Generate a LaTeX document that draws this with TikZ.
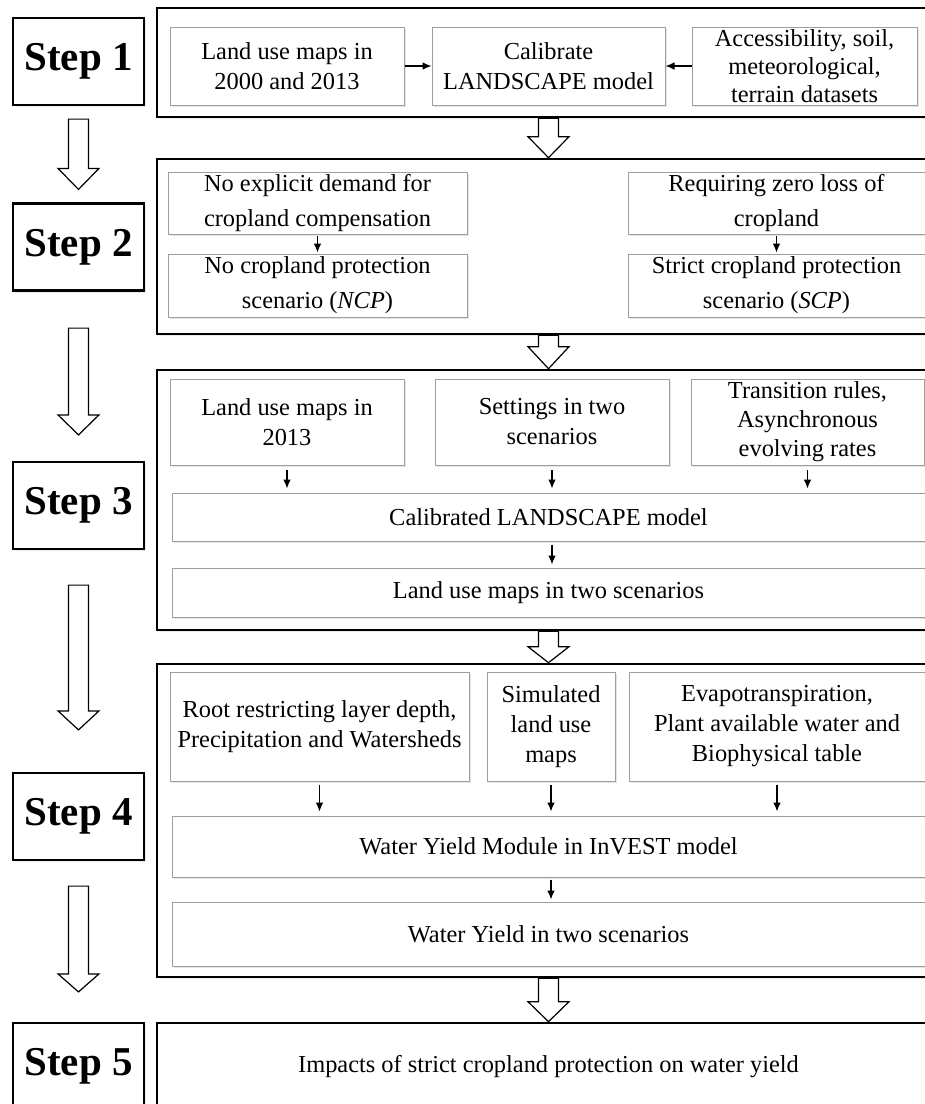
\documentclass[tikz,border=0pt]{standalone}
\usepackage{fontspec}
\setmainfont{Liberation Serif}
\usetikzlibrary{arrows.meta,shadows,calc}

% big open arrow between two named points
\newcommand{\hollowdown}[3]{%
  \draw[hollow]($(#1)+(-10,0)$)--($(#1)+(10,0)$)--($(#2)+(10,-#3)$)--($(#2)+(20.5,-#3)$)--(#2)
    --($(#2)+(-20.5,-#3)$)--($(#2)+(-10,-#3)$)--cycle;}

\begin{document}
\begin{tikzpicture}[x=0.5pt,y=-0.5pt,>={Latex[length=4.5pt,width=3.8pt]}]
  \tikzstyle{frame}=[rectangle,draw,line width=1.3pt,fill=white,drop shadow={opacity=.15,shadow xshift=1pt,shadow yshift=-1pt}]
  \tikzstyle{stepbox}=[rectangle,draw,line width=1.1pt,fill=white,minimum width=65.5pt,minimum height=43.5pt,font=\fontsize{20.5}{24}\selectfont\bfseries,drop shadow={opacity=.15,shadow xshift=1pt,shadow yshift=-1pt}]
  \tikzstyle{box}=[rectangle,draw=black!38,line width=.5pt,fill=white,align=center,inner sep=0pt,font=\fontsize{12.2}{15}\selectfont,drop shadow={opacity=.2,shadow xshift=.8pt,shadow yshift=-.8pt}]
  \tikzstyle{hollow}=[draw,line width=.6pt,fill=white]
  \tikzstyle{link}=[->,line width=.6pt]
  \useasboundingbox (0,0) rectangle (925,1104);
  \clip (0,0) rectangle (925,1104);
  % frames
  \node(f-1) at (548.5,62.5)[frame,minimum width=391.5pt,minimum height=54.5pt]{};
  \node(f-2) at (548.5,246.5)[frame,minimum width=391.5pt,minimum height=87.5pt]{};
  \node(f-3) at (548.5,500)[frame,minimum width=391.5pt,minimum height=130pt]{};
  \node(f-4) at (548.5,820.5)[frame,minimum width=391.5pt,minimum height=156.5pt]{};
  \node(f-5) at (548.5,1067)[frame,minimum width=391.5pt,minimum height=44pt,font=\fontsize{12.2}{15}\selectfont]{Impacts of strict cropland protection on water yield};
  % step labels
  \node(s-1) at (78.5,61.5)[stepbox]{Step 1};
  \node(s-2) at (78.5,247)[stepbox]{Step 2};
  \node(s-3) at (78.5,505.5)[stepbox]{Step 3};
  \node(s-4) at (78.5,816.5)[stepbox]{Step 4};
  \node(s-5) at (78.5,1066.5)[stepbox]{Step 5};
  % step 1
  \node(lum-1) at (287,66)[box,minimum width=117pt,minimum height=39pt]{Land use maps in\\2000 and 2013};
  \node(cal-1) at (548.5,66)[box,minimum width=116.5pt,minimum height=39pt]{Calibrate\\LANDSCAPE model};
  \node(acc-1) at (804.5,66)[box,minimum width=112.5pt,minimum height=39pt,font=\fontsize{12.2}{14}\selectfont]{Accessibility, soil,\\meteorological,\\terrain datasets};
  \draw[link](lum-1)--(cal-1);
  \draw[link](acc-1)--(cal-1);
  % step 2
  \node(dem-2) at (317.5,203)[box,minimum width=149.5pt,minimum height=31pt,font=\fontsize{12.2}{17.5}\selectfont]{No explicit demand for\\cropland compensation};
  \node(ncp-2) at (317.5,285.5)[box,minimum width=149.5pt,minimum height=31.5pt,font=\fontsize{12.2}{17.5}\selectfont]{No cropland protection\\scenario (\textit{NCP})};
  \node(req-2) at (776.5,203)[box,minimum width=148.5pt,minimum height=31pt,font=\fontsize{12.2}{17.5}\selectfont]{Requiring zero loss of\\cropland};
  \node(scp-2) at (776.5,285.5)[box,minimum width=148.5pt,minimum height=31.5pt,font=\fontsize{12.2}{17.5}\selectfont]{Strict cropland protection\\scenario (\textit{SCP})};
  \draw[link,shorten <=.5pt,shorten >=.5pt](dem-2.south)--(ncp-2.north);
  \draw[link,shorten <=.5pt,shorten >=.5pt](req-2.south)--(scp-2.north);
  % step 3
  \node(lum-3) at (287,422)[box,minimum width=117pt,minimum height=43pt]{Land use maps in\\2013};
  \node(set-3) at (552,422)[box,minimum width=117pt,minimum height=43pt]{Settings in two\\scenarios};
  \node(tra-3) at (807.5,422)[box,minimum width=116.5pt,minimum height=43pt,font=\fontsize{12.2}{14.5}\selectfont]{Transition rules,\\Asynchronous\\evolving rates};
  \node(cali-3) at (548.5,517)[box,minimum width=376.5pt,minimum height=24pt]{Calibrated LANDSCAPE model};
  \node(two-3) at (548.5,592.5)[box,minimum width=376.5pt,minimum height=24.5pt]{Land use maps in two scenarios};
  \draw[link,shorten <=2pt,shorten >=2pt](lum-3.south)--(lum-3.south |- cali-3.north);
  \draw[link,shorten <=2pt,shorten >=2pt](set-3.south)--(set-3.south |- cali-3.north);
  \draw[link,shorten <=2pt,shorten >=2pt](tra-3.south)--(tra-3.south |- cali-3.north);
  \draw[link,shorten <=1.5pt,shorten >=1.5pt](set-3.south |- cali-3.south)--(set-3.south |- two-3.north);
  % step 4
  \node(roo-4) at (319.5,726.5)[box,minimum width=149.5pt,minimum height=54.5pt]{Root restricting layer depth,\\Precipitation and Watersheds};
  \node(sim-4) at (551,726.5)[box,minimum width=64pt,minimum height=54.5pt]{Simulated\\land use\\maps};
  \node(eva-4) at (777,726.5)[box,minimum width=148pt,minimum height=54.5pt]{Evapotranspiration,\\Plant available water and\\Biophysical table};
  \node(wym-4) at (548.5,846.5)[box,minimum width=376.5pt,minimum height=30.5pt]{Water Yield Module in InVEST model};
  \node(wyt-4) at (548.5,934)[box,minimum width=376.5pt,minimum height=32pt]{Water Yield in two scenarios};
  \draw[link,shorten <=1.5pt,shorten >=2pt](roo-4.south)--(roo-4.south |- wym-4.north);
  \draw[link,shorten <=1.5pt,shorten >=2pt](sim-4.south)--(sim-4.south |- wym-4.north);
  \draw[link,shorten <=1.5pt,shorten >=2pt](eva-4.south)--(eva-4.south |- wym-4.north);
  \draw[link,shorten <=1pt,shorten >=1pt](sim-4.south |- wym-4.south)--(sim-4.south |- wyt-4.north);
  % big arrows between frames
  \hollowdown{f-1.south}{f-2.north}{21}
  \hollowdown{f-2.south}{f-3.north}{22}
  \hollowdown{f-3.south}{f-4.north}{16}
  \hollowdown{f-4.south}{f-5.north}{20}
  % big arrows between step labels
  \coordinate(a-1) at ($(s-1.south)+(0,13)$);
  \coordinate(b-1) at ($(s-2.north)+(0,-13)$);
  \coordinate(a-2) at ($(s-2.south)+(0,36.5)$);
  \coordinate(b-2) at ($(s-3.north)+(0,-26)$);
  \coordinate(a-3) at ($(s-3.south)+(0,35)$);
  \coordinate(b-3) at ($(s-4.north)+(0,-42)$);
  \coordinate(a-4) at ($(s-4.south)+(0,25)$);
  \coordinate(b-4) at ($(s-5.north)+(0,-30)$);
  \hollowdown{a-1}{b-1}{21}
  \hollowdown{a-2}{b-2}{20}
  \hollowdown{a-3}{b-3}{19}
  \hollowdown{a-4}{b-4}{18}
\end{tikzpicture}
\end{document}
